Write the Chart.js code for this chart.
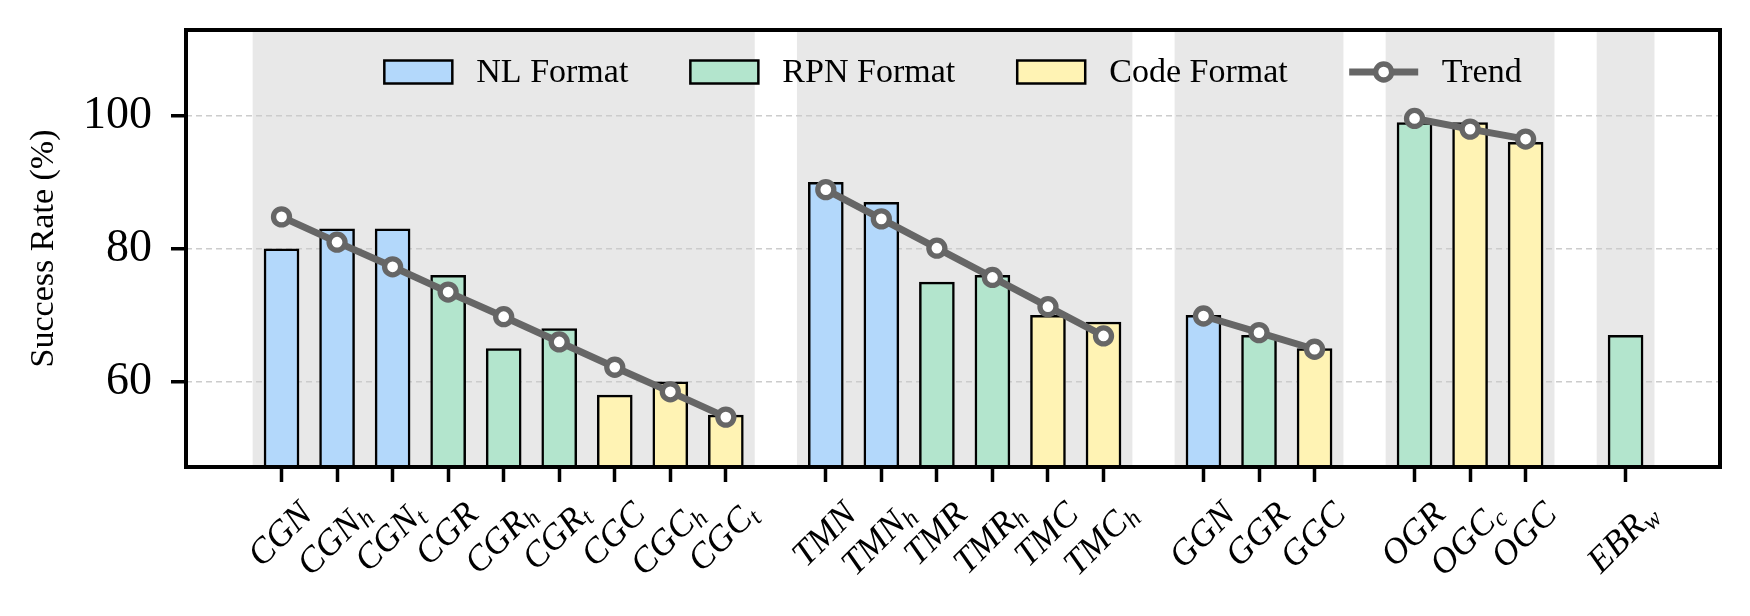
<!DOCTYPE html>
<html>
<head>
<meta charset="utf-8">
<script src="https://cdn.jsdelivr.net/npm/chart.js@4.4.0/dist/chart.umd.min.js"></script>
<style>
  html, body { margin: 0; padding: 0; background: #fff; }
  #wrap { width: 1750px; height: 616px; position: relative; }
</style>
</head>
<body>
<div id="wrap"><canvas id="myChart"></canvas></div>
<script>
// tasks, grouped like in the figure (the part after "_" is the subscript)
const groupNames = [
  ['CGN', 'CGN_h', 'CGN_t', 'CGR', 'CGR_h', 'CGR_t', 'CGC', 'CGC_h', 'CGC_t'],
  ['TMN', 'TMN_h', 'TMR', 'TMR_h', 'TMC', 'TMC_h'],
  ['GGN', 'GGR', 'GGC'],
  ['OGR', 'OGC_c', 'OGC'],
  ['EBR_w']
];
const formats = [
  'NL', 'NL', 'NL', 'RPN', 'RPN', 'RPN', 'Code', 'Code', 'Code',
  'NL', 'NL', 'RPN', 'RPN', 'Code', 'Code',
  'NL', 'RPN', 'Code',
  'RPN', 'Code', 'Code',
  'RPN'
];
const successRate = [
  80, 83, 83, 76, 65, 68, 58, 60, 55,
  90, 87, 75, 76, 70, 69,
  70, 67, 65,
  99, 99, 96,
  67
];
const trendRate = [
  84.8, 81.0, 77.3, 73.5, 69.8, 66.0, 62.2, 58.5, 54.7,
  88.9, 84.5, 80.1, 75.7, 71.3, 66.9,
  69.9, 67.4, 64.9,
  99.6, 98.0, 96.5,
  null
];
const yTicks = [60, 80, 100];

const serif = "'Liberation Serif', 'Times New Roman', serif";
const colors = { NL: '#b3d8fb', RPN: '#b3e5cd', Code: '#fff3b4' };
const legendNames = { NL: 'NL Format', RPN: 'RPN Format', Code: 'Code Format' };

// x position of every bar: groups separated by a wider gap
const groupGap = 1.8;
let labels = [], xPos = [], groupOf = [];
let pos = 0;
groupNames.forEach((g, gi) => {
  if (gi > 0) pos += groupGap - 1;
  g.forEach(name => {
    labels.push(name);
    xPos.push(pos);
    groupOf.push(gi);
    pos += 1;
  });
});

function barData(f) {
  let out = [];
  labels.forEach((l, i) => {
    if (formats[i] === f) out.push({ x: xPos[i], y: successRate[i] });
  });
  return out;
}

// trend: one broken line, a null between groups
let trendPts = [];
labels.forEach((l, i) => {
  if (i > 0 && groupOf[i] !== groupOf[i - 1]) trendPts.push({ x: (xPos[i] + xPos[i - 1]) / 2, y: null });
  if (trendRate[i] !== null) trendPts.push({ x: xPos[i], y: trendRate[i] });
});

const bandPlugin = {
  id: 'bands',
  beforeDraw(chart) {
    const { ctx, chartArea } = chart;
    const xs = chart.scales.x;
    ctx.save();
    ctx.fillStyle = '#e8e8e8';
    groupNames.forEach((g, gi) => {
      const idx = groupOf.map((v, i) => v === gi ? i : -1).filter(i => i >= 0);
      const x0 = xs.getPixelForValue(xPos[idx[0]] - 0.52);
      const x1 = xs.getPixelForValue(xPos[idx[idx.length - 1]] + 0.52);
      ctx.fillRect(x0, chartArea.top, x1 - x0, chartArea.bottom - chartArea.top);
    });
    ctx.restore();
  },
  afterDraw(chart) {
    const { ctx, chartArea } = chart;
    const xs = chart.scales.x;

    // frame
    ctx.save();
    ctx.strokeStyle = '#000';
    ctx.lineWidth = 4;
    ctx.strokeRect(chartArea.left, chartArea.top, chartArea.right - chartArea.left, chartArea.bottom - chartArea.top);
    ctx.restore();

    // x labels, italic with subscripts, rotated 45deg, box centred on the tick
    const size = 36;
    const subSize = Math.round(size * 0.7);
    const subShift = 0.15 * size;
    ctx.save();
    ctx.fillStyle = '#000';
    labels.forEach((lab, i) => {
      const parts = lab.split('_');
      const main = parts[0], sub = parts[1] || '';
      ctx.font = 'italic ' + size + 'px ' + serif;
      const mm = ctx.measureText(main);
      const wMain = mm.width;
      let wSub = 0, desc = 0.01 * size;
      if (sub) {
        ctx.font = 'italic ' + subSize + 'px ' + serif;
        const ms = ctx.measureText(sub);
        wSub = ms.width;
        desc = Math.max(desc, subShift + ms.actualBoundingBoxDescent);
      }
      const asc = mm.actualBoundingBoxAscent;
      const L = wMain + wSub;
      const H = asc + desc;
      const half = (L + H) / (2 * Math.SQRT2);
      const cx = xs.getPixelForValue(xPos[i]) - 2;
      const cy = chartArea.bottom + 32 + half;
      ctx.save();
      ctx.translate(cx, cy);
      ctx.rotate(-Math.PI / 4);
      ctx.textAlign = 'left';
      ctx.textBaseline = 'alphabetic';
      const base = (asc - desc) / 2;
      ctx.font = 'italic ' + size + 'px ' + serif;
      ctx.fillText(main, -L / 2, base);
      if (sub) {
        ctx.font = 'italic ' + subSize + 'px ' + serif;
        ctx.fillText(sub, -L / 2 + wMain, base + subShift);
      }
      ctx.restore();
    });
    ctx.restore();

    // legend inside the top of the axes
    const fs = 34, hw = 68, hh = 23, textPad = 24, colSpace = 62;
    const items = ['NL', 'RPN', 'Code'].map(f => ({ kind: 'bar', color: colors[f], text: legendNames[f] }));
    items.push({ kind: 'line', text: 'Trend' });
    ctx.save();
    ctx.font = fs + 'px ' + serif;
    let total = 0;
    items.forEach((it, k) => {
      it.w = ctx.measureText(it.text).width;
      total += hw + textPad + it.w + (k > 0 ? colSpace : 0);
    });
    let x = (chartArea.left + chartArea.right) / 2 - total / 2;
    const cyL = chartArea.top + 42;
    items.forEach(it => {
      if (it.kind === 'bar') {
        ctx.fillStyle = it.color;
        ctx.fillRect(x, cyL - hh / 2, hw, hh);
        ctx.strokeStyle = '#000';
        ctx.lineWidth = 2.5;
        ctx.strokeRect(x, cyL - hh / 2, hw, hh);
      } else {
        ctx.strokeStyle = '#666666';
        ctx.lineWidth = 7;
        ctx.lineCap = 'square';
        ctx.beginPath();
        ctx.moveTo(x + 3, cyL);
        ctx.lineTo(x + hw - 3, cyL);
        ctx.stroke();
        ctx.beginPath();
        ctx.arc(x + hw / 2, cyL, 8, 0, Math.PI * 2);
        ctx.fillStyle = '#fff';
        ctx.fill();
        ctx.lineWidth = 5.3;
        ctx.stroke();
      }
      ctx.fillStyle = '#000';
      ctx.textAlign = 'left';
      ctx.textBaseline = 'middle';
      ctx.fillText(it.text, x + hw + textPad, cyL + 1);
      x += hw + textPad + it.w + colSpace;
    });
    ctx.restore();
  }
};

const ctx = document.getElementById('myChart');

new Chart(ctx, {
  type: 'bar',
  data: {
    datasets: [
      {
        type: 'line',
        label: 'Trend',
        data: trendPts,
        borderColor: '#666666',
        borderWidth: 7,
        pointRadius: 8,
        pointBorderWidth: 5.3,
        pointBackgroundColor: '#ffffff',
        pointBorderColor: '#666666',
        spanGaps: false,
        order: 0
      },
      ...['NL', 'RPN', 'Code'].map(f => ({
        label: legendNames[f],
        data: barData(f),
        backgroundColor: colors[f],
        borderColor: '#000',
        borderWidth: 2.5,
        barThickness: 35,
        grouped: false,
        order: 1
      }))
    ]
  },
  options: {
    responsive: true,
    maintainAspectRatio: false,
    animation: false,
    layout: { padding: { top: 30, right: 30, left: 0, bottom: 0 } },
    plugins: {
      legend: { display: false },
      tooltip: { enabled: false }
    },
    scales: {
      x: {
        type: 'linear',
        min: -1.72,
        max: 25.9,
        offset: false,
        afterBuildTicks: s => { s.ticks = xPos.map(v => ({ value: v })); },
        afterFit: s => { s.height = 149; s.paddingLeft = 0; s.paddingRight = 0; },
        ticks: { display: false },
        grid: { offset: false, drawOnChartArea: false, drawTicks: true, tickLength: 15, tickWidth: 3.5, tickColor: '#000' },
        border: { display: false }
      },
      y: {
        min: 47.2,
        max: 112.9,
        afterBuildTicks: s => { s.ticks = yTicks.map(v => ({ value: v })); },
        afterFit: s => { s.width = 186; s.paddingTop = 0; s.paddingBottom = 0; },
        ticks: { font: { family: serif, size: 46 }, color: '#000', padding: 19 },
        grid: { color: '#cccccc', lineWidth: 1.5, tickLength: 15, tickWidth: 3.5, tickColor: '#000' },
        border: { display: false, dash: [6, 4] },
        title: {
          display: true,
          text: 'Success Rate (%)',
          font: { family: serif, size: 34 },
          color: '#000',
          padding: { top: 24, bottom: 0 }
        }
      }
    }
  },
  plugins: [bandPlugin]
});
</script>
</body>
</html>
